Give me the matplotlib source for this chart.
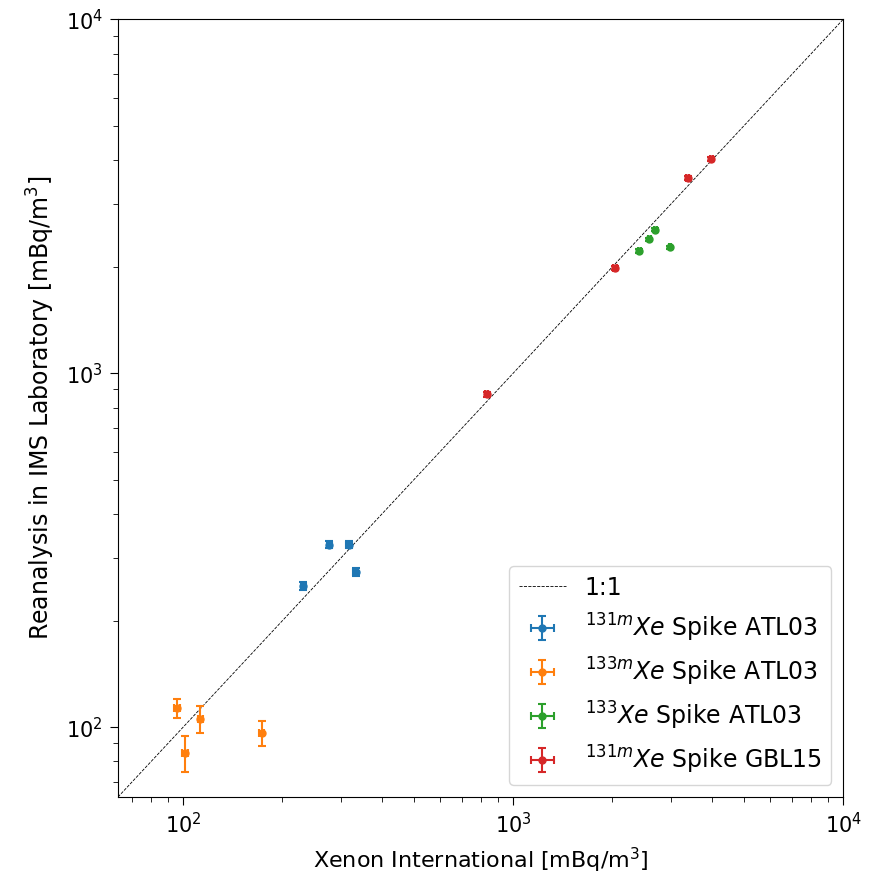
import matplotlib
matplotlib.use("Agg")
import matplotlib.pyplot as plt
import numpy as np

# 131mXe Spike ATL03
x_131m_atl = [277, 318, 333, 231]
y_131m_atl = [328, 328, 274, 251]
xerr_131m_atl = [5, 6, 6, 4]
yerr_131m_atl = [7, 7, 7, 7]

# 133mXe Spike ATL03
x_133m_atl = [95.7, 112.6, 101.4, 173]
y_133m_atl = [113, 105.6, 84.6, 96.4]
xerr_133m_atl = [2, 2, 2, 3]
yerr_133m_atl = [7, 9.5, 10, 8]

# 133Xe Spike ATL03
x_133_atl = [2698, 2588, 2410, 2985]
y_133_atl = [2541, 2392, 2219, 2270]
xerr_133_atl = [25, 25, 25, 25]
yerr_133_atl = [25, 25, 25, 25]

# 131mXe Spike GBL15
x_131m_gbl = [3981, 3381, 2037, 832]
y_131m_gbl = [4027, 3573, 1986, 872]
xerr_131m_gbl = [40, 35, 25, 10]
yerr_131m_gbl = [50, 45, 30, 15]

lims = (63.5, 1e4)

fig = plt.figure(figsize=(8.71, 8.82), dpi=100)
ax = fig.add_axes([0.1355, 0.0964, 0.8325, 0.8816])

ax.plot(lims, lims, 'k--', lw=0.6, label='1:1')

series = [
    (x_131m_atl, y_131m_atl, xerr_131m_atl, yerr_131m_atl, '#1f77b4', r'$^{131m}Xe$ Spike ATL03'),
    (x_133m_atl, y_133m_atl, xerr_133m_atl, yerr_133m_atl, '#ff7f0e', r'$^{133m}Xe$ Spike ATL03'),
    (x_133_atl, y_133_atl, xerr_133_atl, yerr_133_atl, '#2ca02c', r'$^{133}Xe$ Spike ATL03'),
    (x_131m_gbl, y_131m_gbl, xerr_131m_gbl, yerr_131m_gbl, '#d62728', r'$^{131m}Xe$ Spike GBL15'),
]
for x, y, xe, ye, c, lab in series:
    ax.errorbar(x, y, xerr=xe, yerr=ye, fmt='o', color=c, ms=5,
                capsize=3, elinewidth=1.5, capthick=1.5, label=lab)

ax.set_xscale('log')
ax.set_yscale('log')
ax.set_xlim(lims)
ax.set_ylim(lims)
ax.tick_params(axis='both', which='major', labelsize=15, length=6, pad=5)
ax.tick_params(axis='both', which='minor', length=3.5)
ax.set_xlabel(r'Xenon International [mBq/m$^3$]', fontsize=16, labelpad=6)
ax.set_ylabel(r'Reanalysis in IMS Laboratory [mBq/m$^3$]', fontsize=17, labelpad=6)

ax.legend(loc='lower right', fontsize=17)

fig.savefig('out.png', dpi=100)
